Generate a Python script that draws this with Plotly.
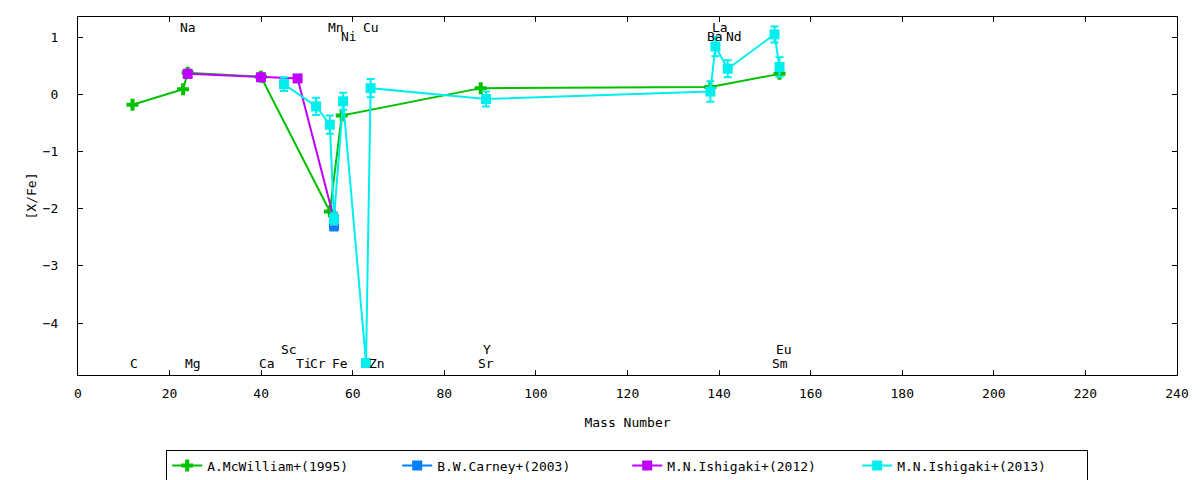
import plotly.graph_objs as go

# [X/Fe] against mass number
mcw_mass = [11.9, 22.95, 23.95, 39.95, 55.0, 57.6, 87.95, 138.1, 153.2]
mcw_xfe = [-0.18, 0.09, 0.38, 0.31, -2.05, -0.37, 0.11, 0.13, 0.36]

carney_mass = [55.9]
carney_xfe = [-2.3]
carney_err = [0.08]

ish12_mass = [23.95, 39.95, 47.95, 55.9]
ish12_xfe = [0.36, 0.30, 0.28, -2.18]
ish12_err = [0.07, 0.06, 0.06, 0.11]

ish13_mass = [45.0, 52.0, 55.0, 55.9, 57.9, 62.9, 63.9, 89.1, 138.1, 139.2, 141.9, 152.1, 153.2]
ish13_xfe = [0.18, -0.21, -0.53, -2.18, -0.12, -4.70, 0.11, -0.08, 0.05, 0.84, 0.45, 1.05, 0.48]
ish13_err = [0.12, 0.15, 0.16, 0.10, 0.15, 0.0, 0.16, 0.13, 0.18, 0.17, 0.15, 0.14, 0.17]

# element labels written inside the frame
elem_names = ["C", "Na", "Mg", "Ca", "Sc", "Ti", "Cr", "Fe", "Mn", "Ni", "Cu", "Zn",
              "Y", "Sr", "La", "Ba", "Nd", "Eu", "Sm"]
elem_x = [12.2, 24.0, 25.2, 41.2, 46.1, 49.3, 52.4, 57.2, 56.3, 59.1, 64.0, 65.2,
          89.4, 89.1, 140.1, 139.2, 143.3, 154.2, 153.3]
elem_y = [-4.71, 1.17, -4.71, -4.71, -4.46, -4.71, -4.71, -4.71, 1.17, 1.01, 1.17, -4.71,
          -4.46, -4.71, 1.17, 1.01, 1.01, -4.46, -4.71]

FONT = "DejaVu Sans Mono"


def err_style(values, color):
    return dict(type="data", array=values, visible=True, color=color, thickness=2, width=4)


fig = go.Figure()

fig.add_trace(go.Scatter(
    x=mcw_mass, y=mcw_xfe, mode="lines+markers", name="A.McWilliam+(1995)",
    line=dict(color="#00c000", width=2),
    marker=dict(symbol="cross", size=10, color="#00c000"),
))
fig.add_trace(go.Scatter(
    x=carney_mass, y=carney_xfe, mode="lines+markers", name="B.W.Carney+(2003)",
    line=dict(color="#0080ff", width=2),
    marker=dict(symbol="square", size=10, color="#0080ff"),
    error_y=err_style(carney_err, "#0080ff"),
))
fig.add_trace(go.Scatter(
    x=ish12_mass, y=ish12_xfe, mode="lines+markers", name="M.N.Ishigaki+(2012)",
    line=dict(color="#c000ff", width=2),
    marker=dict(symbol="square", size=10, color="#c000ff"),
    error_y=err_style(ish12_err, "#c000ff"),
))
fig.add_trace(go.Scatter(
    x=ish13_mass, y=ish13_xfe, mode="lines+markers", name="M.N.Ishigaki+(2013)",
    line=dict(color="#00eeee", width=2),
    marker=dict(symbol="square", size=10, color="#00eeee"),
    error_y=err_style(ish13_err, "#00eeee"),
))

for name, x, y in zip(elem_names, elem_x, elem_y):
    fig.add_annotation(x=x, y=y, text=name, showarrow=False,
                       xanchor="center", yanchor="middle",
                       font=dict(family=FONT, size=13, color="black"))

axis_style = dict(showline=True, linecolor="black", linewidth=1, mirror="ticks",
                  ticks="inside", ticklen=5, tickcolor="black", showgrid=False,
                  zeroline=False, automargin=False,
                  tickfont=dict(family=FONT, size=13, color="black"))

# the page adds an 8px body margin, so the margins are set 8px smaller on top/left
fig.update_layout(
    width=1200, height=480,
    margin=dict(l=70, r=31, t=9, b=113),
    plot_bgcolor="white", paper_bgcolor="white",
    font=dict(family=FONT, size=13, color="black"),
    xaxis=dict(range=[0, 240], dtick=20, ticklabelstandoff=6,
               title=dict(text="Mass Number", standoff=18, font=dict(family=FONT, size=13)),
               **axis_style),
    yaxis=dict(range=[-4.91, 1.355], dtick=1, ticklabelstandoff=16,
               title=dict(text="[X/Fe]", standoff=3, font=dict(family=FONT, size=13)),
               **axis_style),
    legend=dict(orientation="h", x=0.516, xanchor="center", xref="container",
                y=0.08, yanchor="top", yref="container",
                bordercolor="black", borderwidth=1, bgcolor="white",
                entrywidth=185, entrywidthmode="pixels", tracegroupgap=0,
                font=dict(family=FONT, size=13)),
)

fig.write_html("out.html")
